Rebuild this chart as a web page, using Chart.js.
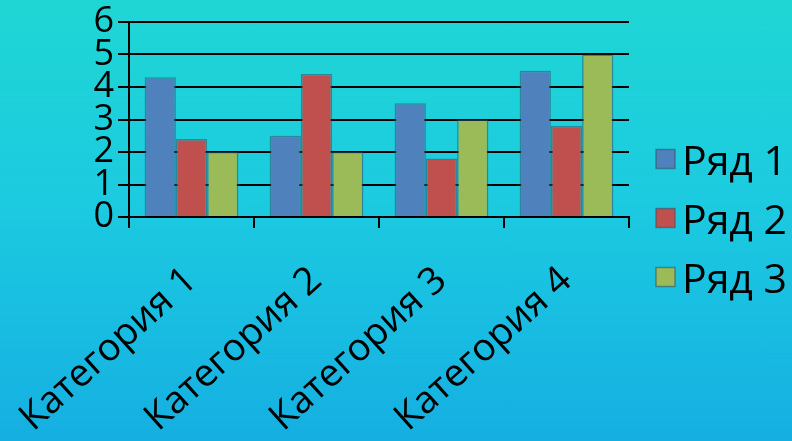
<!DOCTYPE html>
<html>
<head>
<meta charset="utf-8">
<script src="https://cdn.jsdelivr.net/npm/chart.js@4.4.1/dist/chart.umd.min.js"></script>
<style>
  html, body { margin: 0; padding: 0; }
  body {
    width: 792px; height: 441px; overflow: hidden;
    background: linear-gradient(to bottom, #1fd6d4 0%, #1ccbe0 45%, #15afe2 100%);
  }
  #wrap { position: relative; width: 792px; height: 441px; }
</style>
</head>
<body>
<div id="wrap"><canvas id="chart"></canvas></div>
<script>
// data
const categories = ['Категория 1', 'Категория 2', 'Категория 3', 'Категория 4'];
const seriesNames = ['Ряд 1', 'Ряд 2', 'Ряд 3'];
const row1 = [4.3, 2.5, 3.5, 4.5];
const row2 = [2.4, 4.4, 1.8, 2.8];
const row3 = [2, 2, 3, 5];
const yTicks = [0, 1, 2, 3, 4, 5, 6];

const colors = ['#4f81bd', '#c0504d', '#9bbb59'];
const edge = 'rgba(50,80,100,0.55)';
const font = "'Open Sans', 'Noto Sans', sans-serif";

// legend on the right, drawn next to the plot with a tight gap between box and text
const sideLegend = {
    id: 'sideLegend',
    afterDraw(chart) {
        const c = chart.ctx;
        const area = chart.chartArea;
        const x = area.right + 27;
        const step = 59;
        const n = chart.data.datasets.length;
        const midY = 218;
        c.save();
        c.font = '41px ' + font;
        c.textBaseline = 'alphabetic';
        c.textAlign = 'left';
        chart.data.datasets.forEach((ds, i) => {
            const cy = midY + (i - (n - 1) / 2) * step;
            c.fillStyle = ds.backgroundColor;
            c.fillRect(x, cy - 9.5, 19, 19);
            c.strokeStyle = edge;
            c.lineWidth = 1.5;
            c.strokeRect(x, cy - 9.5, 19, 19);
            c.fillStyle = '#000';
            c.fillText(ds.label, x + 26, cy + 16);
        });
        c.restore();
    }
};

const ctx = document.getElementById('chart');
const myChart = new Chart(ctx, {
    type: 'bar',
    data: {
        labels: categories,
        datasets: [row1, row2, row3].map((vals, i) => ({
            label: seriesNames[i],
            data: vals,
            backgroundColor: colors[i],
            borderColor: edge,
            borderWidth: 1.5,
            barPercentage: 1,
            categoryPercentage: 0.75,
        })),
    },
    options: {
        responsive: true,
        maintainAspectRatio: false,
        animation: false,
        layout: { padding: { top: 22, left: 0, right: 163, bottom: 0 } },
        plugins: {
            tooltip: { enabled: false },
            legend: { display: false },
        },
        scales: {
            x: {
                afterFit: (scale) => {
                    scale.height = 224;
                    // labels may hang past the left edge, like in the original
                    scale.paddingLeft = 0;
                    scale.paddingRight = 0;
                },
                grid: {
                    offset: true,
                    drawOnChartArea: false,
                    color: '#000',
                    lineWidth: 2,
                    tickLength: 11,
                },
                border: { color: '#000', width: 2 },
                ticks: {
                    color: '#000',
                    font: { family: font, size: 38 },
                    minRotation: 42,
                    maxRotation: 42,
                    autoSkip: false,
                    padding: 30,
                },
            },
            y: {
                min: 0,
                max: 6,
                afterFit: (scale) => {
                    scale.width = 129;
                    scale.paddingTop = 0;
                    scale.paddingBottom = 0;
                },
                afterBuildTicks: (scale) => { scale.ticks = yTicks.map(v => ({ value: v })); },
                grid: {
                    color: '#000',
                    lineWidth: 2,
                    tickLength: 11,
                },
                border: { color: '#000', width: 2 },
                ticks: {
                    color: '#000',
                    font: { family: font, size: 36, lineHeight: 1 },
                    autoSkip: false,
                    padding: 4,
                },
            },
        },
    },
    plugins: [sideLegend],
});
</script>
</body>
</html>
